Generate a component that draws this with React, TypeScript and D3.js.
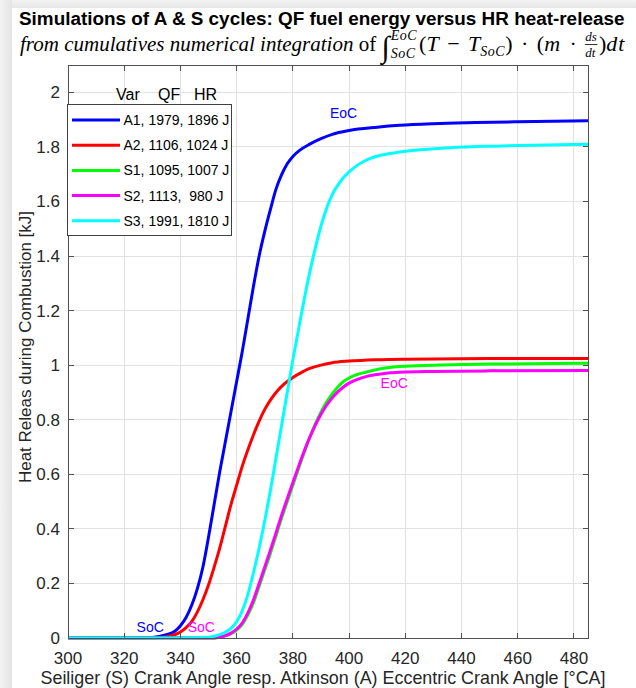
import React, { useEffect, useRef } from 'react';
import * as d3 from 'd3';

// Cumulative heat release [kJ] over crank angle [°CA]
const anglesA1 = [300, 320, 330, 335, 338, 340, 342, 344, 346, 348, 350, 352, 354, 356, 358, 360, 362, 364, 366, 368, 370, 372, 374, 376, 378, 380, 382.5, 386, 390, 394, 400, 410, 418, 430, 445, 460, 485];
const heatA1 = [0, 0, 0.002, 0.012, 0.025, 0.045, 0.075, 0.12, 0.18, 0.26, 0.37, 0.49, 0.61, 0.72, 0.83, 0.94, 1.05, 1.17, 1.29, 1.40, 1.49, 1.57, 1.645, 1.698, 1.738, 1.765, 1.788, 1.81, 1.83, 1.846, 1.86, 1.872, 1.879, 1.885, 1.889, 1.892, 1.896];

const anglesA2 = [300, 330, 335, 338, 340, 342, 344, 346, 348, 350, 352, 354, 356, 358, 360, 362, 364, 366, 368, 370, 372, 374, 376, 378, 380, 382.5, 386, 390, 394, 400, 410, 420, 450, 485];
const heatA2 = [0, 0, 0.005, 0.012, 0.022, 0.038, 0.06, 0.095, 0.14, 0.195, 0.26, 0.33, 0.41, 0.49, 0.56, 0.63, 0.69, 0.745, 0.795, 0.838, 0.872, 0.9, 0.922, 0.94, 0.955, 0.97, 0.988, 1.0, 1.009, 1.015, 1.02, 1.022, 1.024, 1.024];

const anglesS1 = [300, 350, 354, 356, 358, 360, 362, 364, 366, 368, 370, 372, 374, 376, 378, 380, 382, 384, 386, 388, 390, 392, 394, 396, 398, 400, 403, 406, 410, 418, 430, 450, 485];
const heatS1 = [0, 0, 0.003, 0.008, 0.016, 0.029, 0.05, 0.085, 0.13, 0.19, 0.25, 0.31, 0.375, 0.44, 0.5, 0.56, 0.62, 0.68, 0.735, 0.785, 0.828, 0.865, 0.895, 0.92, 0.94, 0.953, 0.966, 0.974, 0.984, 0.995, 1.0, 1.004, 1.007];

const anglesS2 = [300, 350, 354, 356, 358, 360, 362, 364, 366, 368, 370, 372, 374, 376, 378, 380, 382, 384, 386, 388, 390, 392, 394, 396, 398, 400, 403, 406, 410, 418, 430, 450, 485];
const heatS2 = [0, 0, 0.003, 0.009, 0.018, 0.033, 0.055, 0.092, 0.14, 0.2, 0.26, 0.322, 0.385, 0.45, 0.51, 0.57, 0.628, 0.684, 0.735, 0.78, 0.82, 0.853, 0.88, 0.902, 0.92, 0.934, 0.948, 0.958, 0.966, 0.974, 0.977, 0.979, 0.98];

const anglesS3 = [300, 340, 350, 354, 356, 358, 360, 362, 364, 366, 368, 370, 372, 374, 376, 378, 380, 382, 384, 386, 388, 390, 392, 394, 396, 398, 400, 403, 406, 410, 418, 426, 436, 454, 470, 485];
const heatS3 = [0, 0, 0.003, 0.012, 0.022, 0.035, 0.06, 0.1, 0.16, 0.24, 0.33, 0.43, 0.54, 0.66, 0.78, 0.9, 1.02, 1.13, 1.24, 1.34, 1.43, 1.51, 1.575, 1.625, 1.66, 1.688, 1.708, 1.733, 1.751, 1.766, 1.781, 1.79, 1.797, 1.803, 1.807, 1.81];

// Legend content
const variantNames = ['A1', 'A2', 'S1', 'S2', 'S3'];
const fuelEnergyQF = [1979, 1106, 1095, 1113, 1991];
const heatReleaseHR = [1896, 1024, 1007, 980, 1810];
const seriesColors = ['#0000ff', '#ff0000', '#00ff00', '#ff00ff', '#00ffff'];
const seriesAngles = [anglesA1, anglesA2, anglesS1, anglesS2, anglesS3];
const seriesHeat = [heatA1, heatA2, heatS1, heatS2, heatS3];
const legendHeader = ['Var', 'QF', 'HR'];

// Axis ticks
const xTicks = [300, 320, 340, 360, 380, 400, 420, 440, 460, 480];
const yTicks = [0, 0.2, 0.4, 0.6, 0.8, 1, 1.2, 1.4, 1.6, 1.8, 2];

// Start / end of combustion markers (text, angle, heat, colour)
const markerText = ['EoC', 'EoC', 'SoC', 'SoC'];
const markerAngle = [393.2, 411.2, 324.4, 342.6];
const markerHeat = [1.905, 0.918, 0.023, 0.023];
const markerColor = ['#0000ff', '#ff00ff', '#0000ff', '#ff00ff'];

const SANS = '"Liberation Sans", Arial, Helvetica, sans-serif';
const SERIF = '"Liberation Serif", "Times New Roman", serif';

const App = () => {
  const ref = useRef<SVGSVGElement>(null);

  useEffect(() => {
    const svg = d3.select(ref.current);
    svg.selectAll('*').remove();

    const W = 636, H = 688;
    const left = 68, right = 588, top = 65, bottom = 638;

    // window shading along the top and left edges
    const defs = svg.append('defs');
    const gl = defs.append('linearGradient').attr('id', 'shadeL').attr('x1', 0).attr('x2', 1).attr('y1', 0).attr('y2', 0);
    gl.append('stop').attr('offset', '0%').attr('stop-color', '#f3f3f3');
    gl.append('stop').attr('offset', '100%').attr('stop-color', '#e4e4e4');
    const gt = defs.append('linearGradient').attr('id', 'shadeT').attr('x1', 0).attr('x2', 0).attr('y1', 0).attr('y2', 1);
    gt.append('stop').attr('offset', '0%').attr('stop-color', '#f3f3f3');
    gt.append('stop').attr('offset', '100%').attr('stop-color', '#e6e6e6');
    svg.append('rect').attr('width', W).attr('height', H).attr('fill', '#ffffff');
    svg.append('rect').attr('x', 0).attr('y', 0).attr('width', W).attr('height', 8).attr('fill', 'url(#shadeT)');
    svg.append('rect').attr('x', 0).attr('y', 0).attr('width', 12).attr('height', H).attr('fill', 'url(#shadeL)');

    const x = d3.scaleLinear().domain([300, 485]).range([left, right]);
    const y = d3.scaleLinear().domain([0, 2.1]).range([bottom, top]);

    // grid
    const grid = svg.append('g').attr('shape-rendering', 'crispEdges');
    grid.selectAll('line.gx').data(xTicks).join('line')
      .attr('x1', (d) => x(d)).attr('x2', (d) => x(d)).attr('y1', top).attr('y2', bottom)
      .attr('stroke', '#e2e2e2').attr('stroke-width', 1);
    grid.selectAll('line.gy').data(yTicks).join('line')
      .attr('x1', left).attr('x2', right).attr('y1', (d) => y(d)).attr('y2', (d) => y(d))
      .attr('stroke', '#e2e2e2').attr('stroke-width', 1);

    // curves
    const line = d3.line<[number, number]>()
      .x((d) => x(d[0])).y((d) => y(d[1])).curve(d3.curveMonotoneX);
    seriesAngles.forEach((angles, i) => {
      const pts = angles.map((a, k) => [a, seriesHeat[i][k]] as [number, number]);
      svg.append('path').attr('d', line(pts)).attr('fill', 'none')
        .attr('stroke', seriesColors[i]).attr('stroke-width', 3)
        .attr('stroke-linejoin', 'round').attr('stroke-linecap', 'butt');
    });

    // axes box and inward ticks on all four sides
    const ax = svg.append('g').attr('shape-rendering', 'crispEdges').attr('stroke', '#505050').attr('stroke-width', 1);
    ax.append('rect').attr('x', left).attr('y', top).attr('width', right - left).attr('height', bottom - top).attr('fill', 'none');
    const tl = 5.5;
    xTicks.forEach((t) => {
      ax.append('line').attr('x1', x(t)).attr('x2', x(t)).attr('y1', bottom).attr('y2', bottom - tl);
      ax.append('line').attr('x1', x(t)).attr('x2', x(t)).attr('y1', top).attr('y2', top + tl);
    });
    yTicks.forEach((t) => {
      ax.append('line').attr('x1', left).attr('x2', left + tl).attr('y1', y(t)).attr('y2', y(t));
      ax.append('line').attr('x1', right).attr('x2', right - tl).attr('y1', y(t)).attr('y2', y(t));
    });

    // tick labels
    const tickFont = 17;
    svg.append('g').selectAll('text').data(xTicks).join('text')
      .attr('x', (d) => x(d)).attr('y', bottom + 26).attr('text-anchor', 'middle')
      .style('font-family', SANS).style('font-size', `${tickFont}px`).attr('fill', '#262626')
      .text((d) => d3.format('d')(d));
    svg.append('g').selectAll('text').data(yTicks).join('text')
      .attr('x', left - 8).attr('y', (d) => y(d) + 6).attr('text-anchor', 'end')
      .style('font-family', SANS).style('font-size', `${tickFont}px`).attr('fill', '#262626')
      .text((d) => d3.format('~g')(d));

    // axis labels
    svg.append('text').attr('x', (left + right) / 2 - 5).attr('y', 684).attr('text-anchor', 'middle')
      .style('font-family', SANS).style('font-size', '17.9px').attr('fill', '#262626')
      .text('Seiliger (S) Crank Angle resp. Atkinson (A) Eccentric Crank Angle [°CA]');
    svg.append('text').attr('transform', `translate(31,347) rotate(-90)`).attr('text-anchor', 'middle')
      .style('font-family', SANS).style('font-size', '17px').attr('fill', '#262626')
      .text('Heat Releas during Combustion [kJ]');

    // title
    svg.append('text').attr('x', 19).attr('y', 25)
      .style('font-family', SANS).style('font-size', '18.9px').style('font-weight', 'bold').attr('fill', '#000')
      .text('Simulations of A & S cycles: QF fuel energy versus HR heat-release');

    // subtitle typeset piece by piece
    const sub = svg.append('g').attr('fill', '#000');
    const base = 51;
    let cx = 20;
    const put = (t: string, opt: { it?: boolean; size?: number; dy?: number; advance?: boolean; ls?: number } = {}) => {
      const el = sub.append('text').attr('x', cx).attr('y', base + (opt.dy || 0))
        .attr('xml:space', 'preserve').style('white-space', 'pre')
        .style('font-family', SERIF).style('font-style', opt.it ? 'italic' : 'normal')
        .style('font-size', `${opt.size || 21}px`)
        .style('letter-spacing', `${opt.ls ?? 0}px`)
        .text(t);
      const w = (el.node() as SVGTextElement).getComputedTextLength();
      if (opt.advance !== false) cx += w;
      return w;
    };
    const gap = (px: number) => { cx += px; };
    put('from cumulatives numerical integration', { it: true, size: 21 });
    put(' of ', { size: 21 });
    put('∫', { size: 30, dy: 6 });
    gap(1);
    const w1 = put('EoC', { it: true, size: 14, dy: -11, advance: false, ls: 0.5 });
    const w2 = put('SoC', { it: true, size: 14, dy: 7, advance: false, ls: 0.5 });
    gap(Math.max(w1, w2) + 2);
    put('(', { size: 22 });
    put('T', { it: true, size: 22 });
    gap(3); put(' − ', { size: 22 }); gap(3);
    put('T', { it: true, size: 22 });
    put('SoC', { it: true, size: 14, dy: 5, ls: 0.5 });
    put(')', { size: 22 });
    gap(3); put(' · ', { size: 22 }); gap(3);
    put('(', { size: 22 });
    put('m', { it: true, size: 22, ls: 1 });
    gap(3); put(' · ', { size: 22 }); gap(3);
    const f1 = put('ds', { it: true, size: 13, dy: -10, advance: false });
    const f2 = put('dt', { it: true, size: 13, dy: 6, advance: false });
    const fw = Math.max(f1, f2);
    sub.append('line').attr('x1', cx - 0.5).attr('x2', cx + fw + 0.5).attr('y1', base - 6.5).attr('y2', base - 6.5)
      .attr('stroke', '#000').attr('stroke-width', 0.8);
    gap(fw + 2);
    put(')', { size: 22 });
    put('dt', { it: true, size: 22, ls: 1 });

    // legend
    const lg = svg.append('g');
    const headerX = [116, 158, 194];
    legendHeader.forEach((h, i) => {
      lg.append('text').attr('x', headerX[i]).attr('y', 100)
        .style('font-family', SANS).style('font-size', '16px').attr('fill', '#000').text(h);
    });
    lg.append('rect').attr('x', 67.5).attr('y', 104.5).attr('width', 164).attr('height', 131)
      .attr('fill', '#fff').attr('stroke', '#404040').attr('stroke-width', 1);
    variantNames.forEach((v, i) => {
      const yy = 120 + i * 25.2;
      lg.append('line').attr('x1', 72).attr('x2', 120).attr('y1', yy).attr('y2', yy)
        .attr('stroke', seriesColors[i]).attr('stroke-width', 3);
      lg.append('text').attr('x', 123.5).attr('y', yy + 5).attr('xml:space', 'preserve').style('white-space', 'pre')
        .style('font-family', SANS).style('font-size', '14px').attr('fill', '#000')
        .text(`${v}, ${fuelEnergyQF[i]}, ${String(heatReleaseHR[i]).padStart(4, ' ')} J`);
    });

    // SoC / EoC annotations
    markerText.forEach((t, i) => {
      svg.append('text').attr('x', x(markerAngle[i])).attr('y', y(markerHeat[i]))
        .style('font-family', SANS).style('font-size', '14px').attr('fill', markerColor[i])
        .text(t);
    });
  }, []);

  return (
    <svg ref={ref} width={636} height={688}
      style={{ position: 'absolute', left: 0, top: 0, display: 'block', background: '#fff' }} />
  );
};

export default App;
